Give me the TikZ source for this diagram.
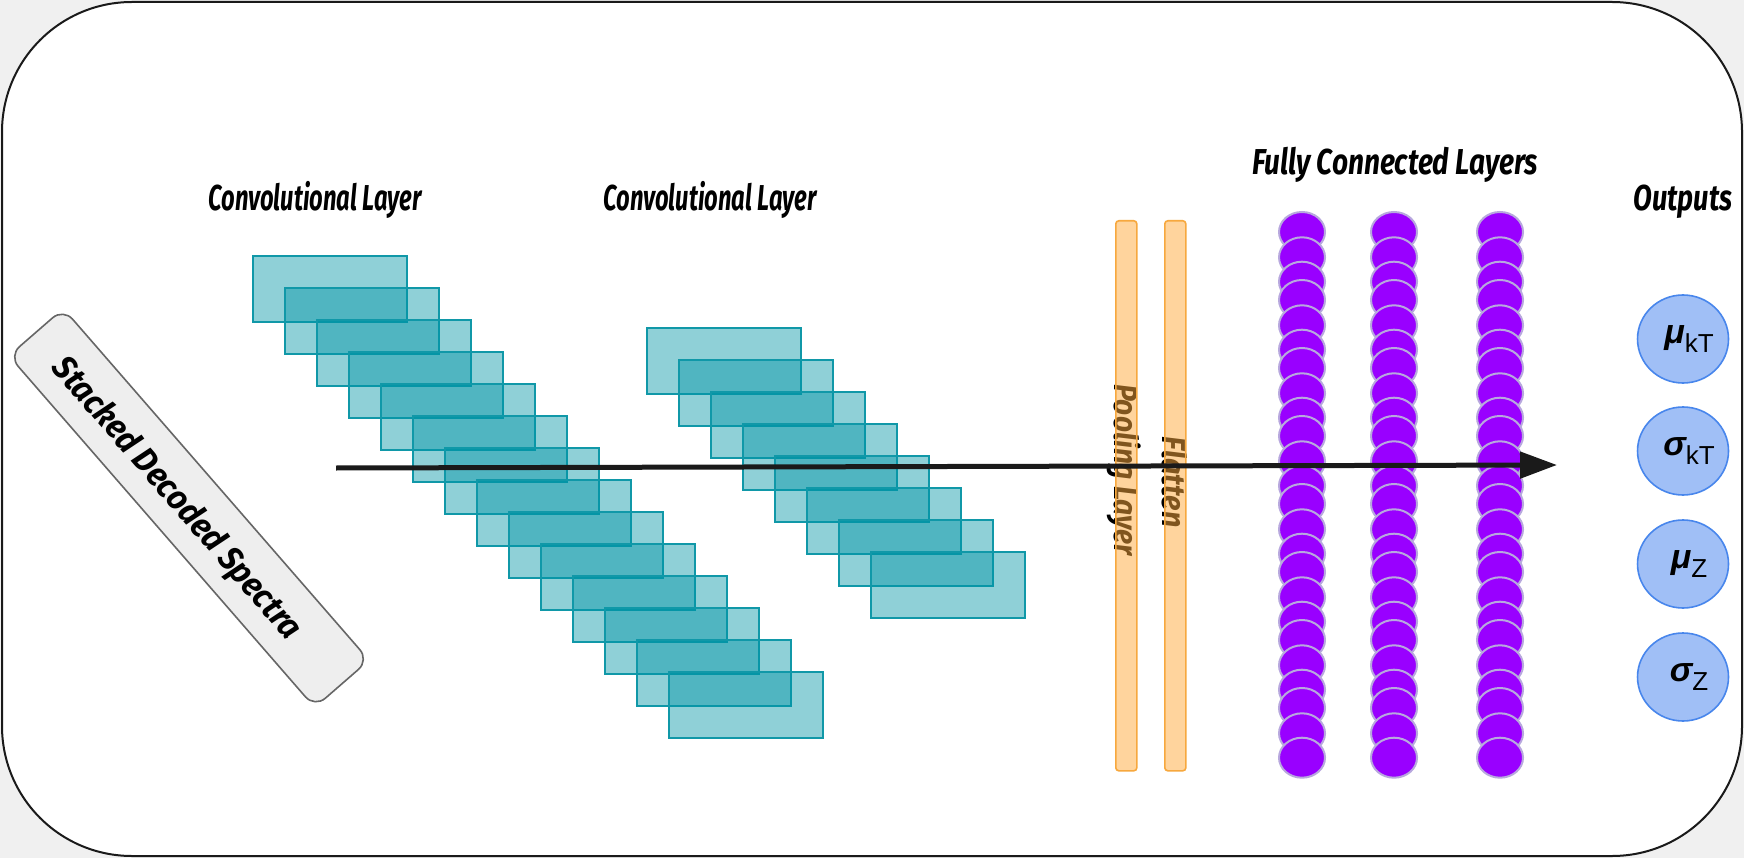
\documentclass[tikz,border=0pt]{standalone}
\usepackage{fontspec}
\usetikzlibrary{shapes.geometric,arrows.meta}
\newfontfamily\hand{Fira Sans}
\newfontfamily\lsans{Liberation Sans}
\definecolor{bggray}{RGB}{240,240,240}
\definecolor{tealfill}{RGB}{0,148,166}
\definecolor{tealline}{RGB}{16,152,168}
\definecolor{orfill}{RGB}{255,170,60}
\definecolor{orline}{RGB}{247,168,62}
\definecolor{purp}{RGB}{153,0,255}
\definecolor{purpline}{RGB}{184,168,222}
\definecolor{outfill}{RGB}{160,191,246}
\definecolor{outline}{RGB}{72,134,236}
\definecolor{boxfill}{RGB}{238,238,238}
\definecolor{boxline}{RGB}{102,102,102}
\definecolor{arrowc}{RGB}{26,26,26}
\tikzset{
  convbox/.style={draw=tealline, line width=1.8pt, fill=tealfill, fill opacity=0.44, draw opacity=1,
    minimum width=154pt, minimum height=66pt, inner sep=0pt, anchor=north west},
  barbox/.style={draw=orline, line width=1.6pt, fill=orfill, fill opacity=0.5, rounded corners=3pt,
    minimum width=21pt, minimum height=550pt, inner sep=0pt, anchor=north west},
  neuron/.style={ellipse, draw=purpline, line width=2pt, fill=purp, minimum width=46pt, minimum height=40pt, inner sep=0pt},
  outnode/.style={ellipse, draw=outline, line width=1.6pt, fill=outfill, minimum width=91pt, minimum height=88pt, inner sep=0pt},
  title/.style={font=\hand\bfseries\itshape\fontsize{36}{36}\selectfont, inner sep=0pt, anchor=base},
  bartext/.style={font=\hand\bfseries\itshape\fontsize{33}{33}\selectfont, inner sep=0pt, rotate=-90},
  arrowline/.style={line width=5pt, draw=arrowc, -{Triangle[length=37pt,width=26pt]}}
}
\newcommand{\outlbl}[2]{\hspace*{12pt}{\lsans\bfseries\itshape\fontsize{34}{34}\selectfont #1}{\lsans\fontsize{26}{26}\selectfont\raisebox{-9pt}{#2}}}
\begin{document}
\begin{tikzpicture}[x=1pt,y=-1pt]
\path[use as bounding box] (0,0) rectangle (1744,858);
\fill[bggray] (0,0) rectangle (1744,858);
\draw[line width=2pt, draw=arrowc, fill=white, rounded corners=130pt] (2,2) rectangle (1742,856);

% input box
\node[draw=boxline, line width=1.6pt, fill=boxfill, rounded corners=14pt, rotate=-49,
  minimum width=466pt, minimum height=72pt, inner sep=0pt] (inbox) at (189,508) {};
\node[rotate=-49, inner sep=0pt, font=\hand\bfseries\itshape\fontsize{34}{34}\selectfont] (intext) at (176,499) {\scalebox{0.93}[1]{Stacked Decoded Spectra}};

% titles
\node[title] (t1) at (315,211) {\scalebox{0.66}[1]{Convolutional Layer}};
\node[title] (t2) at (710,211) {\scalebox{0.66}[1]{Convolutional Layer}};
\node[title] (t3) at (1395,175) {\scalebox{0.78}[1]{Fully Connected Layers}};
\node[title] (t4) at (1683,211) {\scalebox{0.76}[1]{Outputs}};

% conv stacks
\foreach \i in {0,...,13} {
  \node[convbox] (ca\i) at ({252+32*\i},{255+32*\i}) {};
}
\foreach \i in {0,...,7} {
  \node[convbox] (cb\i) at ({646+32*\i},{327+32*\i}) {};
}

% pooling / flatten
\node[bartext] (ptext) at (1124,470) {\scalebox{0.85}[1]{Pooling Layer}};
\node[bartext] (ftext) at (1175,482) {\scalebox{0.87}[1]{Flatten}};
\node[barbox] (pool) at (1115,220) {};
\node[barbox] (flat) at (1164,220) {};

% fully connected columns
\foreach \c/\xx in {1/1302,2/1394,3/1500} {
  \foreach \g in {0,...,7} {
    \foreach \o [count=\j] in {0,25.3,49.7} {
      \node[neuron] (n\c-\g-\j) at (\xx,{232+68*\g+\o}) {};
    }
  }
}

% outputs
\node[outnode] (o1) at (1683,339) {\outlbl{μ}{kT}};
\node[outnode] (o2) at (1683,451) {\outlbl{σ}{kT}};
\node[outnode] (o3) at (1683,564) {\outlbl{μ}{Z}};
\node[outnode] (o4) at (1683,677) {\outlbl{σ}{Z}};

% main arrow
\coordinate (arrS) at (336,468);
\coordinate (arrE) at (1557,465);
\draw[arrowline] (arrS) -- (arrE);
\end{tikzpicture}
\end{document}
